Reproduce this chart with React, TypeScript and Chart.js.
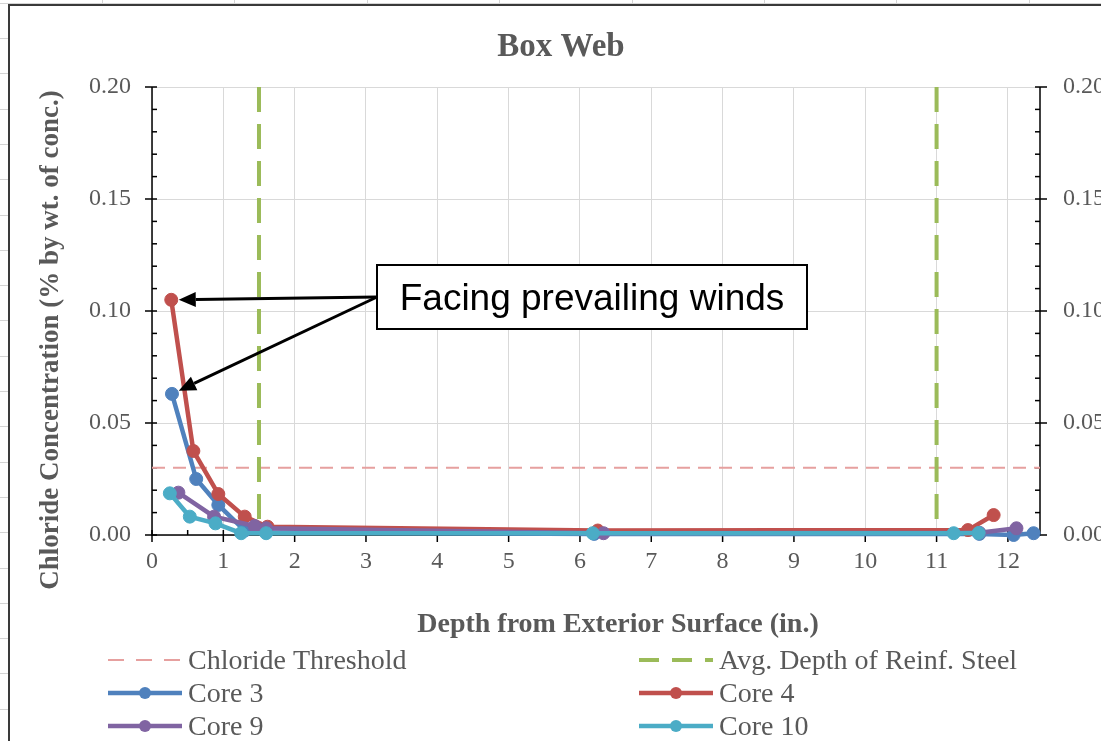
import React, { useEffect, useRef } from "react";
import { Chart, registerables } from "chart.js";

Chart.register(...registerables);

// ---------- data ----------
const xTickValues = [0, 1, 2, 3, 4, 5, 6, 7, 8, 9, 10, 11, 12];
const yTickValues = [0, 0.05, 0.1, 0.15, 0.2];
const X_MIN = 0;
const X_MAX = 12.45;
const Y_MIN = 0;
const Y_MAX = 0.2;

const thresholdX = [0, 12.45];
const thresholdY = [0.03, 0.03];

const steelDepths = [1.5, 11];

const core3X = [0.28, 0.62, 0.93, 1.3, 1.6, 6.2, 11.6, 12.08, 12.36];
const core3Y = [0.063, 0.025, 0.0134, 0.002, 0.0012, 0.0005, 0.0005, 0.0, 0.0008];

const core4X = [0.27, 0.58, 0.93, 1.3, 1.62, 6.25, 11.44, 11.8];
const core4Y = [0.105, 0.0375, 0.0183, 0.0082, 0.0037, 0.002, 0.0022, 0.0089];

const core9X = [0.37, 0.87, 1.44, 1.6, 6.33, 11.6, 12.12];
const core9Y = [0.0189, 0.0082, 0.004, 0.003, 0.0008, 0.001, 0.003];

const core10X = [0.25, 0.53, 0.89, 1.25, 1.6, 6.18, 11.24, 11.59];
const core10Y = [0.0186, 0.0082, 0.0052, 0.0008, 0.0008, 0.0008, 0.0008, 0.0009];

const chartTitle = "Box Web";
const xTitle = "Depth from Exterior Surface (in.)";
const yTitle = "Chloride Concentration (% by wt. of conc.)";
const annotationText = "Facing prevailing winds";

// ---------- layout ----------
const CANVAS_W = 1140;
const CANVAS_H = 741;
const PLOT_LEFT = 152;
const PLOT_RIGHT = 1040;
const PLOT_TOP = 87;
const PLOT_BOTTOM = 535;
const SERIF = "'Liberation Serif', 'Times New Roman', serif";
const SANS = "'Liberation Sans', Arial, sans-serif";
const TEXT_GRAY = "#595959";

const mk = (xs: number[], ys: number[]) => xs.map((x, i) => ({ x, y: ys[i] }));

function line(ctx: CanvasRenderingContext2D, x0: number, y0: number, x1: number, y1: number) {
  ctx.beginPath();
  ctx.moveTo(x0, y0);
  ctx.lineTo(x1, y1);
  ctx.stroke();
}

function arrow(ctx: CanvasRenderingContext2D, sx: number, sy: number, tx: number, ty: number) {
  const dx = tx - sx;
  const dy = ty - sy;
  const len = Math.hypot(dx, dy);
  const ux = dx / len;
  const uy = dy / len;
  const headLen = 17;
  const headW = 7.5;
  const bx = tx - ux * headLen;
  const by = ty - uy * headLen;
  ctx.strokeStyle = "#000";
  ctx.lineWidth = 3;
  line(ctx, sx, sy, bx, by);
  ctx.fillStyle = "#000";
  ctx.beginPath();
  ctx.moveTo(tx, ty);
  ctx.lineTo(bx - uy * headW, by + ux * headW);
  ctx.lineTo(bx + uy * headW, by - ux * headW);
  ctx.closePath();
  ctx.fill();
}

const decorPlugin = {
  id: "decor",
  beforeDraw(chart: any) {
    const { ctx } = chart;
    ctx.save();
    // spreadsheet cell lines behind the chart frame
    ctx.strokeStyle = "#D4D4D4";
    ctx.lineWidth = 1;
    for (let k = 0; k < 9; k++) {
      const x = Math.round(102 + 132.4 * k) + 0.5;
      line(ctx, x, 0, x, 4);
    }
    for (let k = 0; k < 21; k++) {
      const y = Math.round(38 + 35.3 * k) + 0.5;
      line(ctx, 0, y, 8, y);
    }
    line(ctx, 0, 3.5, CANVAS_W, 3.5);
    // chart frame
    ctx.strokeStyle = "#3A3A3A";
    ctx.lineWidth = 2;
    line(ctx, 8, 5, CANVAS_W, 5);
    line(ctx, 9, 4, 9, CANVAS_H);
    ctx.restore();
  },
  beforeDatasetsDraw(chart: any) {
    const { ctx, chartArea: a } = chart;
    ctx.save();
    ctx.strokeStyle = "#000";
    ctx.lineWidth = 1.5;
    // axis lines
    line(ctx, a.left, a.top, a.left, a.bottom + 0.75);
    line(ctx, a.right, a.top, a.right, a.bottom + 0.75);
    line(ctx, a.left, a.bottom, a.right, a.bottom);
    const ys = chart.scales.y;
    const xs = chart.scales.x;
    // y ticks
    for (let i = 0; i <= 20; i++) {
      const y = ys.getPixelForValue(i * 0.01);
      if (i % 5 === 0) {
        line(ctx, a.left - 7, y, a.left + 5, y);
        line(ctx, a.right - 5, y, a.right + 7, y);
      } else {
        line(ctx, a.left, y, a.left + 5, y);
        line(ctx, a.right - 5, y, a.right, y);
      }
    }
    // x ticks
    for (let i = 0; i <= 24; i++) {
      const v = i * 0.5;
      const x = xs.getPixelForValue(v);
      if (i % 2 === 0) line(ctx, x, a.bottom - 5, x, a.bottom + 7);
      else line(ctx, x, a.bottom - 5, x, a.bottom);
    }
    ctx.restore();
  },
  afterDraw(chart: any) {
    const { ctx } = chart;
    const xs = chart.scales.x;
    const ys = chart.scales.y;
    const ds = chart.data.datasets;
    ctx.save();

    // title
    ctx.fillStyle = TEXT_GRAY;
    ctx.textAlign = "center";
    ctx.textBaseline = "alphabetic";
    ctx.font = `bold 33px ${SERIF}`;
    ctx.fillText(chartTitle, 561, 56);

    // axis titles
    ctx.font = `bold 28px ${SERIF}`;
    ctx.fillText(xTitle, 618, 632);
    ctx.save();
    ctx.font = `bold 27px ${SERIF}`;
    ctx.translate(58, 340);
    ctx.rotate(-Math.PI / 2);
    ctx.fillText(yTitle, 0, 0);
    ctx.restore();

    // legend
    const cols = [108, 639];
    const rowsY = [660, 693, 726];
    const sampleLen = 74;
    const order = [0, 1, 2, 3, 4, 5];
    const legendDash: Record<number, number[]> = { 0: [16, 12], 1: [20, 13] };
    order.forEach((di, k) => {
      const d = ds[di];
      const col = k % 2;
      const row = Math.floor(k / 2);
      const x0 = cols[col];
      const y = rowsY[row];
      ctx.save();
      ctx.strokeStyle = d.borderColor;
      ctx.lineWidth = d.borderWidth;
      ctx.setLineDash(legendDash[di] || []);
      line(ctx, x0, y, x0 + sampleLen, y);
      ctx.setLineDash([]);
      if (d.pointRadius > 0) {
        ctx.fillStyle = d.backgroundColor;
        ctx.beginPath();
        ctx.arc(x0 + sampleLen / 2, y, 6, 0, Math.PI * 2);
        ctx.fill();
      }
      ctx.restore();
      ctx.fillStyle = TEXT_GRAY;
      ctx.textAlign = "left";
      ctx.textBaseline = "alphabetic";
      ctx.font = `28px ${SERIF}`;
      ctx.fillText(d.label, x0 + sampleLen + 6, y + 9);
    });

    // annotation
    const bx = 377, by = 265, bw = 430, bh = 64;
    const sx = bx, sy = by + bh / 2;
    const pts = [
      { x: xs.getPixelForValue(core4X[0]), y: ys.getPixelForValue(core4Y[0]) },
      { x: xs.getPixelForValue(core3X[0]), y: ys.getPixelForValue(core3Y[0]) },
    ];
    pts.forEach((p) => {
      const dx = p.x - sx, dy = p.y - sy;
      const len = Math.hypot(dx, dy);
      const tx = p.x - (dx / len) * 7.5;
      const ty = p.y - (dy / len) * 7.5;
      arrow(ctx, sx, sy, tx, ty);
    });
    ctx.fillStyle = "#fff";
    ctx.fillRect(bx, by, bw, bh);
    ctx.strokeStyle = "#000";
    ctx.lineWidth = 2;
    ctx.strokeRect(bx, by, bw, bh);
    ctx.fillStyle = "#000";
    ctx.font = `37px ${SANS}`;
    ctx.textAlign = "center";
    ctx.textBaseline = "alphabetic";
    ctx.fillText(annotationText, bx + bw / 2, 310);

    ctx.restore();
  },
};

export default function App() {
  const canvasRef = useRef<HTMLCanvasElement | null>(null);

  useEffect(() => {
    const canvas = canvasRef.current;
    if (!canvas) return;
    const steelData: any[] = [];
    steelDepths.forEach((d) => {
      steelData.push({ x: d, y: Y_MAX });
      steelData.push({ x: d, y: Y_MIN });
      steelData.push({ x: d, y: null });
    });
    const core = (label: string, xs: number[], ys: number[], color: string, order: number) => ({
      label,
      data: mk(xs, ys),
      borderColor: color,
      backgroundColor: color,
      borderWidth: 4.5,
      pointRadius: 6.5,
      pointBorderWidth: 1,
      pointBorderColor: color,
      pointBackgroundColor: color,
      showLine: true,
      tension: 0,
      clip: false,
      order,
    });
    const chart = new Chart(canvas, {
      type: "scatter",
      data: {
        datasets: [
          {
            label: "Chloride Threshold",
            data: mk(thresholdX, thresholdY),
            borderColor: "#E6A09F",
            backgroundColor: "#E6A09F",
            borderWidth: 2,
            borderDash: [13, 8],
            pointRadius: 0,
            showLine: true,
            clip: false,
            order: 5,
          },
          {
            label: "Avg. Depth of Reinf. Steel",
            data: steelData,
            borderColor: "#9BBB59",
            backgroundColor: "#9BBB59",
            borderWidth: 4,
            borderDash: [25, 12],
            pointRadius: 0,
            showLine: true,
            spanGaps: false,
            clip: false,
            order: 4,
          },
          core("Core 3", core3X, core3Y, "#4F81BD", 3),
          core("Core 4", core4X, core4Y, "#C0504D", 2),
          core("Core 9", core9X, core9Y, "#8064A2", 1),
          core("Core 10", core10X, core10Y, "#4BACC6", 0),
        ] as any,
      },
      options: {
        responsive: false,
        animation: false,
        events: [],
        layout: { padding: { top: PLOT_TOP, left: 0, right: 0, bottom: 0 } },
        plugins: {
          legend: { display: false },
          title: { display: false },
          tooltip: { enabled: false },
        },
        scales: {
          x: {
            type: "linear",
            position: "bottom",
            min: X_MIN,
            max: X_MAX,
            afterBuildTicks: (s: any) => {
              s.ticks = xTickValues.map((v) => ({ value: v }));
            },
            afterFit: (s: any) => {
              s.height = CANVAS_H - PLOT_BOTTOM;
            },
            grid: { color: "#D9D9D9", lineWidth: 1, drawTicks: false },
            border: { display: false },
            ticks: {
              color: TEXT_GRAY,
              font: { family: SERIF, size: 24 },
              padding: 12,
              maxRotation: 0,
              autoSkip: false,
              callback: (v: any) => String(v),
            },
          },
          y: {
            type: "linear",
            position: "left",
            min: Y_MIN,
            max: Y_MAX,
            afterBuildTicks: (s: any) => {
              s.ticks = yTickValues.map((v) => ({ value: v }));
            },
            afterFit: (s: any) => {
              s.width = PLOT_LEFT;
            },
            grid: { color: "#D9D9D9", lineWidth: 1, drawTicks: false },
            border: { display: false },
            ticks: {
              color: TEXT_GRAY,
              font: { family: SERIF, size: 24 },
              padding: 21,
              autoSkip: false,
              callback: (v: any) => Number(v).toFixed(2),
            },
          },
          y2: {
            type: "linear",
            position: "right",
            min: Y_MIN,
            max: Y_MAX,
            afterBuildTicks: (s: any) => {
              s.ticks = yTickValues.map((v) => ({ value: v }));
            },
            afterFit: (s: any) => {
              s.width = CANVAS_W - PLOT_RIGHT;
            },
            grid: { display: false, drawTicks: false },
            border: { display: false },
            ticks: {
              color: TEXT_GRAY,
              font: { family: SERIF, size: 24 },
              padding: 23,
              autoSkip: false,
              callback: (v: any) => Number(v).toFixed(2),
            },
          },
        },
      } as any,
      plugins: [decorPlugin as any],
    });
    return () => chart.destroy();
  }, []);

  return (
    <div
      style={{
        position: "fixed",
        left: 0,
        top: 0,
        width: 1101,
        height: 741,
        overflow: "hidden",
        background: "#fff",
      }}
    >
      <canvas
        ref={canvasRef}
        width={CANVAS_W}
        height={CANVAS_H}
        style={{ display: "block", width: CANVAS_W, height: CANVAS_H }}
      />
    </div>
  );
}
